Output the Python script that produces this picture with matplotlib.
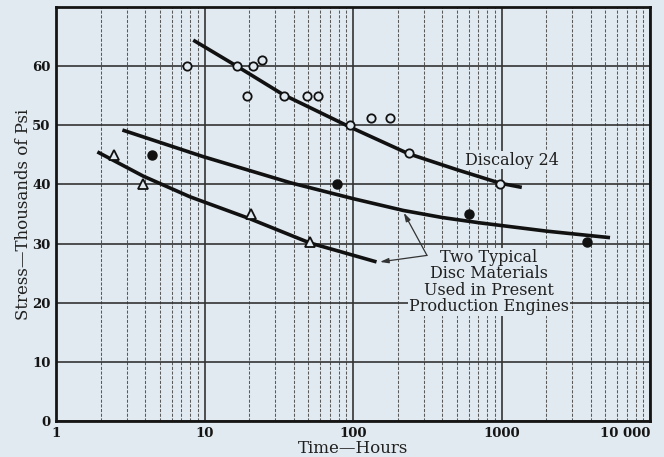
import matplotlib
matplotlib.use("Agg")
import matplotlib.pyplot as plt
from matplotlib.ticker import FixedLocator, LogLocator, NullFormatter

# ---- data ----
disc_x = [7.6, 16.5, 21.2, 24.4, 19.3, 34.3, 49, 58, 95.5, 133, 178, 238, 980]
disc_y = [60, 60, 60, 61, 55, 55, 55, 55, 50, 51.3, 51.3, 45.3, 40]

solid_x = [4.43, 78, 604, 3770]
solid_y = [45, 40, 35, 30.3]

tri_x = [2.46, 3.85, 20.6, 51.4]
tri_y = [45, 40, 35, 30.2]

disc_curve_x = [8.4, 16.5, 33.8, 95.5, 236, 500, 981, 1370]
disc_curve_y = [64.4, 60.0, 55.2, 49.7, 45.2, 42.5, 40.2, 39.5]

mid_curve_x = [2.8, 9.8, 37.7, 100, 218, 400, 716, 2015, 5380]
mid_curve_y = [49.2, 44.7, 40.3, 37.6, 35.6, 34.4, 33.5, 32.1, 31.0]

low_curve_x = [1.9, 3.87, 8.0, 20.2, 51.3, 144]
low_curve_y = [45.5, 41.4, 37.9, 34.2, 30.1, 26.9]

x_ticks = [1, 10, 100, 1000, 10000]
x_tick_labels = ["1", "10", "100", "1000", "10 000"]
y_ticks = [0, 10, 20, 30, 40, 50, 60]
y_tick_labels = ["0", "10", "20", "30", "40", "50", "60"]

BG = "#e1eaf0"
SERIF = ["DejaVu Serif"]

fig = plt.figure(figsize=(6.64, 4.57), dpi=100, facecolor=BG)
ax = fig.add_axes([56 / 664, 36 / 457, (650 - 56) / 664, (421 - 7) / 457])
ax.set_facecolor(BG)

ax.set_xscale("log")
ax.set_xlim(1, 10000)
ax.set_ylim(0, 70)

ax.xaxis.set_major_locator(FixedLocator(x_ticks))
ax.set_xticklabels(x_tick_labels)
ax.xaxis.set_minor_locator(LogLocator(base=10, subs=range(2, 10)))
ax.xaxis.set_minor_formatter(NullFormatter())
ax.set_yticks(y_ticks)
ax.set_yticklabels(y_tick_labels)
ax.yaxis.set_minor_locator(FixedLocator([]))

ax.grid(True, which="major", axis="both", color="#333333", lw=1.2, zorder=0)
ax.grid(True, which="minor", axis="x", color="#5a5a5a", lw=0.75, ls=(0, (3, 1.5)), zorder=0)
ax.set_axisbelow(True)

for s in ax.spines.values():
    s.set_linewidth(2)
    s.set_color("#151515")

ax.tick_params(which="both", length=0, pad=4)
for lab in ax.get_xticklabels() + ax.get_yticklabels():
    lab.set_fontfamily(SERIF)
    lab.set_fontweight("bold")
    lab.set_fontsize(9.5)
    lab.set_color("#151515")
ax.get_xticklabels()[-1].set_horizontalalignment("right")

# curves
for cx, cy in [(disc_curve_x, disc_curve_y), (mid_curve_x, mid_curve_y), (low_curve_x, low_curve_y)]:
    ax.plot(cx, cy, color="#111111", lw=2.6, solid_capstyle="butt", solid_joinstyle="round", zorder=3)

# markers
ax.plot(disc_x, disc_y, ls="none", marker="o", ms=6, mfc=BG, mec="#111111", mew=1.3, zorder=4)
ax.plot(solid_x, solid_y, ls="none", marker="o", ms=6.5, mfc="#111111", mec="#111111", zorder=4)
ax.plot(tri_x, tri_y, ls="none", marker="^", ms=7, mfc=BG, mec="#111111", mew=1.3, zorder=4)

# labels
ax.text(568, 44.1, "Discaloy 24", fontfamily=SERIF, fontsize=11.5, color="#202020",
        ha="left", va="center", zorder=5,
        bbox=dict(facecolor=BG, edgecolor="none", pad=0.5))
ax.text(824, 23.5, "Two Typical\nDisc Materials\nUsed in Present\nProduction Engines",
        fontfamily=SERIF, fontsize=11.5, color="#202020", ha="center", va="center",
        linespacing=0.95, zorder=5, bbox=dict(facecolor=BG, edgecolor="none", pad=1))

arrow_kw = dict(arrowstyle="-|>,head_length=0.5,head_width=0.15", color="#333333", lw=0.9,
                shrinkA=0, shrinkB=0)
ax.annotate("", xy=(220, 35.2), xytext=(315, 28.0), arrowprops=arrow_kw, zorder=5)
ax.annotate("", xy=(152, 26.9), xytext=(315, 28.0), arrowprops=arrow_kw, zorder=5)

ax.set_xlabel("Time\u2014Hours", fontfamily=SERIF, fontsize=12, color="#202020", labelpad=0)
ax.set_ylabel("Stress\u2014Thousands of Psi", fontfamily=SERIF, fontsize=12, color="#202020", labelpad=0)

fig.savefig("out.png", dpi=100, facecolor=BG)
